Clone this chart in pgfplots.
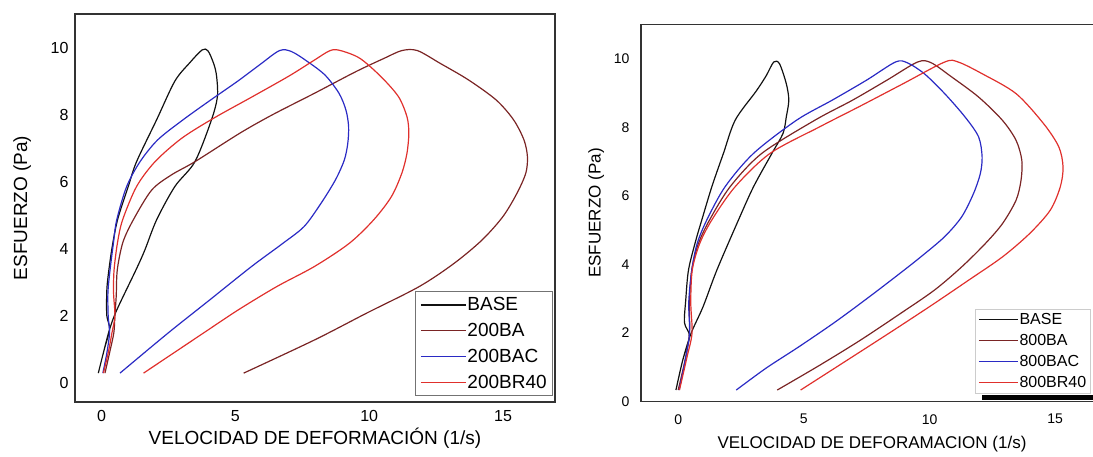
\documentclass[border=0pt]{standalone}
\usepackage{fontspec}
\setmainfont{Liberation Sans}
\usepackage{pgfplots}
\pgfplotsset{compat=1.18}

\definecolor{cbase}{HTML}{111111}
\definecolor{cba}{HTML}{7A2424}
\definecolor{cbac}{HTML}{2A2AC4}
\definecolor{cbr}{HTML}{E0302C}

\pgfplotsset{
  rheo/.style={
    scale only axis,
    axis line style={draw=black!80, line width=1.1pt},
    major tick length=0pt,
    xtick={0,5,10,15},
    ytick={0,2,4,6,8,10},
    /pgf/number format/assume math mode=true,
    every axis plot/.append style={line width=1.2pt, line join=round, smooth, tension=0.5},
    legend cell align=left,
    legend image code/.code={\draw[#1, line width=1.2pt] (0pt,0pt) -- (45pt,0pt);},
  }
}

\begin{document}
\begin{tikzpicture}
\useasboundingbox (0,0) rectangle (1093pt,457pt);

% left panel: 200 series
\begin{axis}[rheo,
  at={(75pt,55pt)}, anchor=south west,
  width=480pt, height=388pt,
  xmin=-0.99, xmax=16.94, ymin=-0.56, ymax=11.0,
  ticklabel style={font=\fontsize{16}{18}\selectfont},
  yticklabel style={xshift=-3pt},
  xticklabel style={yshift=-5pt},
  xlabel={VELOCIDAD DE DEFORMACIÓN (1/s)},
  ylabel={ESFUERZO (Pa)},
  every axis x label/.style={at={(axis description cs:0.5,-0.093)}, anchor=center,
    font=\fontsize{19}{21}\selectfont},
  every axis y label/.style={at={(axis description cs:-0.11,0.5)}, rotate=90, anchor=center,
    font=\fontsize{19}{21}\selectfont},
  legend style={at={(axis description cs:1,0)}, anchor=south east, xshift=-2pt, yshift=6pt,
    font=\fontsize{19}{21}\selectfont, draw=black!55, line width=0.6pt,
    nodes={inner sep=1pt}, row sep=9pt, inner sep=5pt},
]
\addplot[cbase] coordinates {
 (-0.12,0.3) (0.1,1.0) (0.3,1.6) (0.2,2.0) (0.19,2.5) (0.22,3.0) (0.38,3.97)
 (0.6,4.87) (1.0,5.86) (1.31,6.6) (2.06,7.85) (2.74,9.0) (3.3,9.55) (3.76,9.93)
 (3.98,9.9) (4.2,9.5) (4.3,9.14) (4.33,8.54) (4.11,7.85) (3.49,6.6) (2.74,5.86)
 (2.06,4.87) (1.62,3.97) (1.29,3.38) (0.57,2.18) (0.3,1.6) (0.1,1.0) (-0.12,0.3)
};
\addlegendentry{BASE}
\addplot[cba] coordinates {
 (0.13,0.3) (0.3,0.9) (0.46,1.5) (0.5,2.0) (0.55,2.6) (0.59,3.38) (0.8,4.2)
 (1.19,4.87) (1.87,5.75) (2.6,6.2) (3.49,6.6) (5.17,7.45) (6.39,8.0) (7.96,8.64)
 (9.52,9.29) (10.56,9.68) (11.22,9.91) (11.8,9.91) (12.65,9.53) (13.7,9.04)
 (14.74,8.44) (15.39,7.85) (15.78,7.25) (15.91,6.75) (15.85,6.26) (15.52,5.66)
 (15.0,4.97) (14.22,4.27) (13.17,3.57) (11.87,2.88) (9.91,2.09) (7.96,1.29) (5.31,0.3)
};
\addlegendentry{200BA}
\addplot[cbac] coordinates {
 (0.05,0.3) (0.2,0.9) (0.3,1.5) (0.25,2.0) (0.24,2.7) (0.32,3.38) (0.45,4.2)
 (0.57,4.87) (0.94,5.86) (1.44,6.6) (2.1,7.25) (3.05,7.85) (4.1,8.45) (5.09,9.0)
 (5.93,9.5) (6.65,9.91) (7.1,9.88) (7.7,9.58) (8.35,9.18) (8.87,8.64) (9.13,8.14)
 (9.23,7.65) (9.2,7.15) (9.07,6.65) (8.74,6.06) (8.2,5.36) (7.57,4.67) (6.78,4.17)
 (5.61,3.48) (4.04,2.48) (2.48,1.49) (0.69,0.3)
};
\addlegendentry{200BAC}
\addplot[cbr] coordinates {
 (0.07,0.3) (0.25,0.9) (0.39,1.5) (0.5,2.0) (0.45,2.7) (0.47,3.38) (0.6,4.2)
 (0.79,4.87) (1.31,5.86) (2.0,6.6) (3.0,7.3) (4.2,7.9) (5.6,8.52) (7.0,9.15)
 (7.9,9.6) (8.54,9.91) (8.93,9.91) (9.65,9.68) (10.43,9.14) (11.09,8.54)
 (11.41,7.94) (11.48,7.45) (11.41,6.85) (11.22,6.26) (10.83,5.56) (10.17,4.87)
 (9.26,4.17) (7.96,3.48) (6.55,2.88) (5.1,2.18) (3.8,1.49) (1.57,0.3)
};
\addlegendentry{200BR40}
\end{axis}

% right panel: 800 series
\begin{axis}[rheo,
  at={(641pt,55.3pt)}, anchor=south west,
  width=462pt, height=377.4pt,
  xmin=-1.48, xmax=16.9, ymin=0, ymax=11.0,
  ticklabel style={font=\fontsize{14}{16}\selectfont},
  yticklabel style={xshift=-8pt},
  xticklabel style={yshift=-9pt},
  xlabel={VELOCIDAD DE DEFORAMACION (1/s)},
  ylabel={ESFUERZO (Pa)},
  every axis x label/.style={at={(axis description cs:0.5,-0.112)}, anchor=center,
    font=\fontsize{17}{19}\selectfont},
  every axis y label/.style={at={(axis description cs:-0.097,0.5)}, rotate=90, anchor=center,
    font=\fontsize{17}{19}\selectfont},
  legend image code/.code={\draw[#1, line width=1.2pt] (0pt,0pt) -- (39pt,0pt);},
  legend style={at={(axis description cs:0.723,0.022)}, anchor=south west,
    font=\fontsize{16}{18}\selectfont, draw=black!20, line width=0.6pt,
    nodes={inner sep=1pt}, row sep=6.5pt, inner sep=3pt},
]
\addplot[cbase] coordinates {
 (-0.09,0.34) (0.18,1.21) (0.45,1.9) (0.25,2.3) (0.3,2.96) (0.41,3.84) (0.7,4.7)
 (0.94,5.3) (1.34,6.27) (1.8,7.24) (2.27,8.21) (3.1,9.05) (3.5,9.5) (3.8,9.9)
 (4.03,9.85) (4.3,9.27) (4.4,8.79) (4.3,8.3) (4.17,7.82) (3.73,7.24) (3.0,6.27)
 (2.4,5.3) (1.54,3.84) (0.99,2.77) (0.51,1.99) (0.18,1.21) (-0.09,0.34)
};
\addlegendentry{BASE}
\addplot[cba] coordinates {
 (0.0,0.34) (0.3,1.3) (0.45,2.0) (0.45,2.9) (0.54,3.84) (0.8,4.6) (1.25,5.3)
 (2.07,6.27) (3.33,7.24) (5.45,8.21) (6.94,8.79) (8.3,9.37) (9.52,9.9) (10.06,9.88)
 (10.87,9.47) (11.95,8.88) (12.9,8.2) (13.44,7.62) (13.67,7.04) (13.64,6.46)
 (13.44,5.87) (12.9,5.19) (12.22,4.61) (11.28,3.93) (10.19,3.25) (8.8,2.55)
 (7.22,1.78) (5.6,1.05) (3.94,0.34)
};
\addlegendentry{800BA}
\addplot[cbac] coordinates {
 (0.04,0.34) (0.3,1.3) (0.45,2.0) (0.42,2.9) (0.54,3.84) (0.75,4.6) (1.14,5.3)
 (1.87,6.27) (3.0,7.24) (4.72,8.21) (6.13,8.79) (7.49,9.37) (8.64,9.9) (9.11,9.88)
 (9.79,9.56) (10.6,8.98) (11.41,8.3) (11.95,7.72) (12.09,7.14) (12.02,6.65)
 (11.75,6.07) (11.28,5.39) (10.6,4.81) (9.65,4.22) (8.75,3.7) (7.5,3.0)
 (6.2,2.3) (4.8,1.6) (3.5,0.98) (2.31,0.34)
};
\addlegendentry{800BAC}
\addplot[cbr] coordinates {
 (0.05,0.34) (0.35,1.3) (0.55,2.0) (0.5,2.9) (0.56,3.84) (0.85,4.6) (1.34,5.3)
 (2.27,6.27) (3.66,7.24) (5.65,8.02) (7.2,8.6) (8.9,9.25) (10.6,9.9) (11.14,9.9)
 (12.09,9.56) (13.44,8.98) (14.53,8.11) (15.14,7.43) (15.31,6.84) (15.2,6.26)
 (14.8,5.58) (13.98,4.9) (12.9,4.22) (11.55,3.54) (10.1,2.82) (8.5,2.05)
 (6.7,1.2) (4.87,0.34)
};
\addlegendentry{800BR40}
% dark bar under the legend, as in the source figure
\fill[black] (axis description cs:0.738,0.004) rectangle (axis description cs:1.05,0.018);
\end{axis}
\end{tikzpicture}
\end{document}
